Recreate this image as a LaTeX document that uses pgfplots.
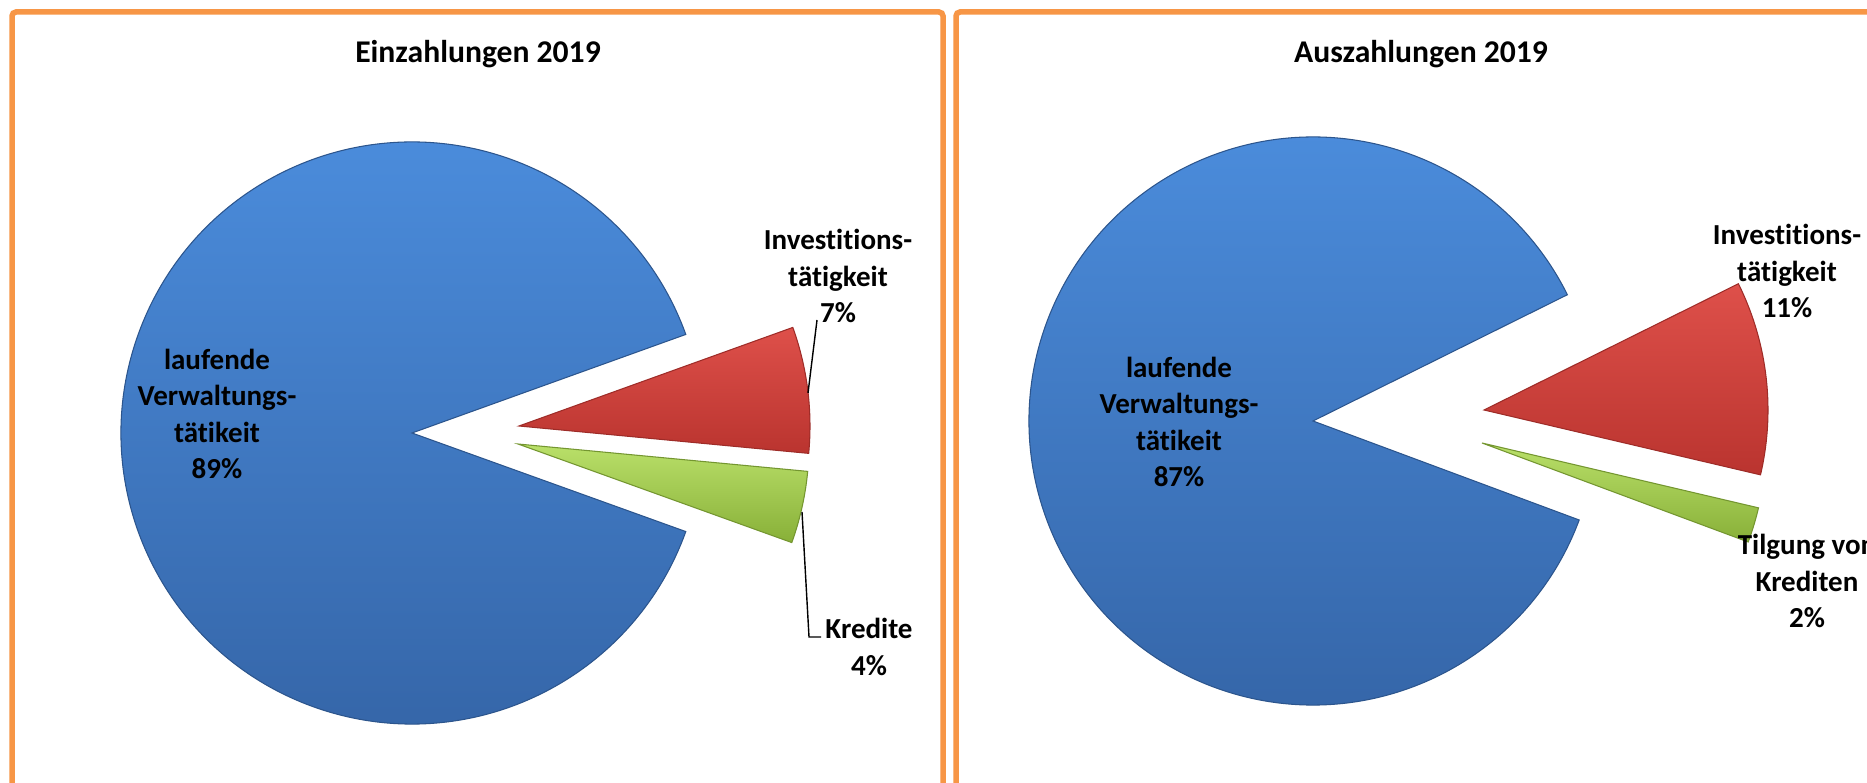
\documentclass[border=0pt]{standalone}
\usepackage{pgfplots}
\pgfplotsset{compat=1.18}
\usepackage{pgfplotstable}
\usepackage{fontspec}
\setmainfont{Carlito}[Ligatures=NoCommon]
\definecolor{frame}{RGB}{247,150,70}
\definecolor{bluet}{RGB}{76,142,222}
\definecolor{blueb}{RGB}{52,100,166}
\definecolor{redt}{RGB}{222,80,74}
\definecolor{redb}{RGB}{186,52,47}
\definecolor{greent}{RGB}{186,224,106}
\definecolor{greenb}{RGB}{136,176,56}
\newcommand\lab{\fontsize{8.25}{10.4}\selectfont\bfseries}
\newcommand\ttl{\fontsize{9}{11}\selectfont\bfseries}

% value in percent, dx/dy = explode offset of the slice (in px of the picture)
\pgfplotstableread{
slice value dx dy
Verwaltung 89 0 0
Investition 7 107 7
Kredite 4 106 -11
}\einTab
\pgfplotstableread{
slice value dx dy
Verwaltung 87 0 0
Investition 11 171 11
Tilgung 2 169 -22
}\ausTab

% #1 table, #2 prefix, #3 start angle (slices run clockwise)
\newcommand\piedata[3]{%
  \pgfmathsetmacro\pieang{#3}%
  \pgfplotsforeachungrouped \i in {0,1,2}{%
    \pgfplotstablegetelem{\i}{value}\of#1%
    \pgfmathsetmacro\pieend{\pieang-3.6*\pgfplotsretval}%
    \expandafter\let\csname #2s\i\endcsname\pieang
    \expandafter\let\csname #2e\i\endcsname\pieend
    \pgfplotstablegetelem{\i}{dx}\of#1%
    \expandafter\let\csname #2x\i\endcsname\pgfplotsretval
    \pgfplotstablegetelem{\i}{dy}\of#1%
    \expandafter\let\csname #2y\i\endcsname\pgfplotsretval
    \let\pieang\pieend
  }%
}
% #1 prefix, #2 index, #3 radius, #4 style
\newcommand\drawwedge[4]{%
  \edef\wx{\csname #1x#2\endcsname}\edef\wy{\csname #1y#2\endcsname}%
  \edef\ws{\csname #1s#2\endcsname}\edef\we{\csname #1e#2\endcsname}%
  \edef\wcmd{\noexpand\path[#4] (axis cs:\wx,\wy)
    -- ++(\ws:#3*0.1mm)
    arc[start angle=\ws, end angle=\we, radius=#3*0.1mm]
    -- cycle;}%
  \wcmd
}
\piedata{\einTab}{e}{-19.8}
\piedata{\ausTab}{a}{-20.4}

\begin{document}%
\begin{tikzpicture}[x=0.1mm, y=-0.1mm]
\useasboundingbox (0,0) rectangle (1867,782);
\clip (0,0) rectangle (1867,782);
\fill[white] (0,0) rectangle (1867,782);
% panels
\draw[frame, line width=0.55mm, rounded corners=0.4mm] (12,12) rectangle (943,830);
\draw[frame, line width=0.55mm, rounded corners=0.4mm] (956,12) rectangle (1950,830);

% left pie (axis origin = pie centre at picture px (412,433))
\begin{axis}[at={(11.2mm,-73.3mm)}, anchor=south west, x=0.1mm, y=0.1mm,
  xmin=-300, xmax=500, ymin=-300, ymax=300, hide axis, clip=false]
  \addplot[draw=none, forget plot] coordinates {(0,0)};
  \drawwedge{e}{0}{291}{top color=bluet, bottom color=blueb, draw=blueb!85!black, line width=0.3pt}
  \drawwedge{e}{1}{291}{top color=redt, bottom color=redb, draw=redb!85!black, line width=0.3pt}
  \drawwedge{e}{2}{291}{top color=greent, bottom color=greenb, draw=greenb!85!black, line width=0.3pt}
\end{axis}

% right pie (centre at picture px (1313,421))
\begin{axis}[at={(101.3mm,-72.1mm)}, anchor=south west, x=0.1mm, y=0.1mm,
  xmin=-300, xmax=500, ymin=-300, ymax=300, hide axis, clip=false]
  \addplot[draw=none, forget plot] coordinates {(0,0)};
  \drawwedge{a}{0}{284}{top color=bluet, bottom color=blueb, draw=blueb!85!black, line width=0.3pt}
  \drawwedge{a}{1}{284}{top color=redt, bottom color=redb, draw=redb!85!black, line width=0.3pt}
  \drawwedge{a}{2}{284}{top color=greent, bottom color=greenb, draw=greenb!85!black, line width=0.3pt}
\end{axis}

% titles
\node[font=\ttl] at (478,54) {Einzahlungen 2019};
\node[font=\ttl] at (1421,54) {Auszahlungen 2019};

% labels left
\node[font=\lab, align=center, inner sep=0pt] at (217,414) {laufende\\Verwaltungs-\\tätikeit\\89\%};
\node[font=\lab, align=center, inner sep=0pt] at (838,276) {Investitions-\\tätigkeit\\7\%};
\node[font=\lab, align=center, inner sep=0pt] at (869,647) {Kredite\\4\%};
\draw[black, line width=0.4pt] (817,320) -- (808,393);
\draw[black, line width=0.4pt] (802,512) -- (809,637) -- (821,637);

% labels right
\node[font=\lab, align=center, inner sep=0pt] at (1179,422) {laufende\\Verwaltungs-\\tätikeit\\87\%};
\node[font=\lab, align=center, inner sep=0pt] at (1787,271) {Investitions-\\tätigkeit\\11\%};
\node[font=\lab, align=center, inner sep=0pt] at (1807,581) {Tilgung von\\Krediten\\2\%};
\end{tikzpicture}%
\end{document}
